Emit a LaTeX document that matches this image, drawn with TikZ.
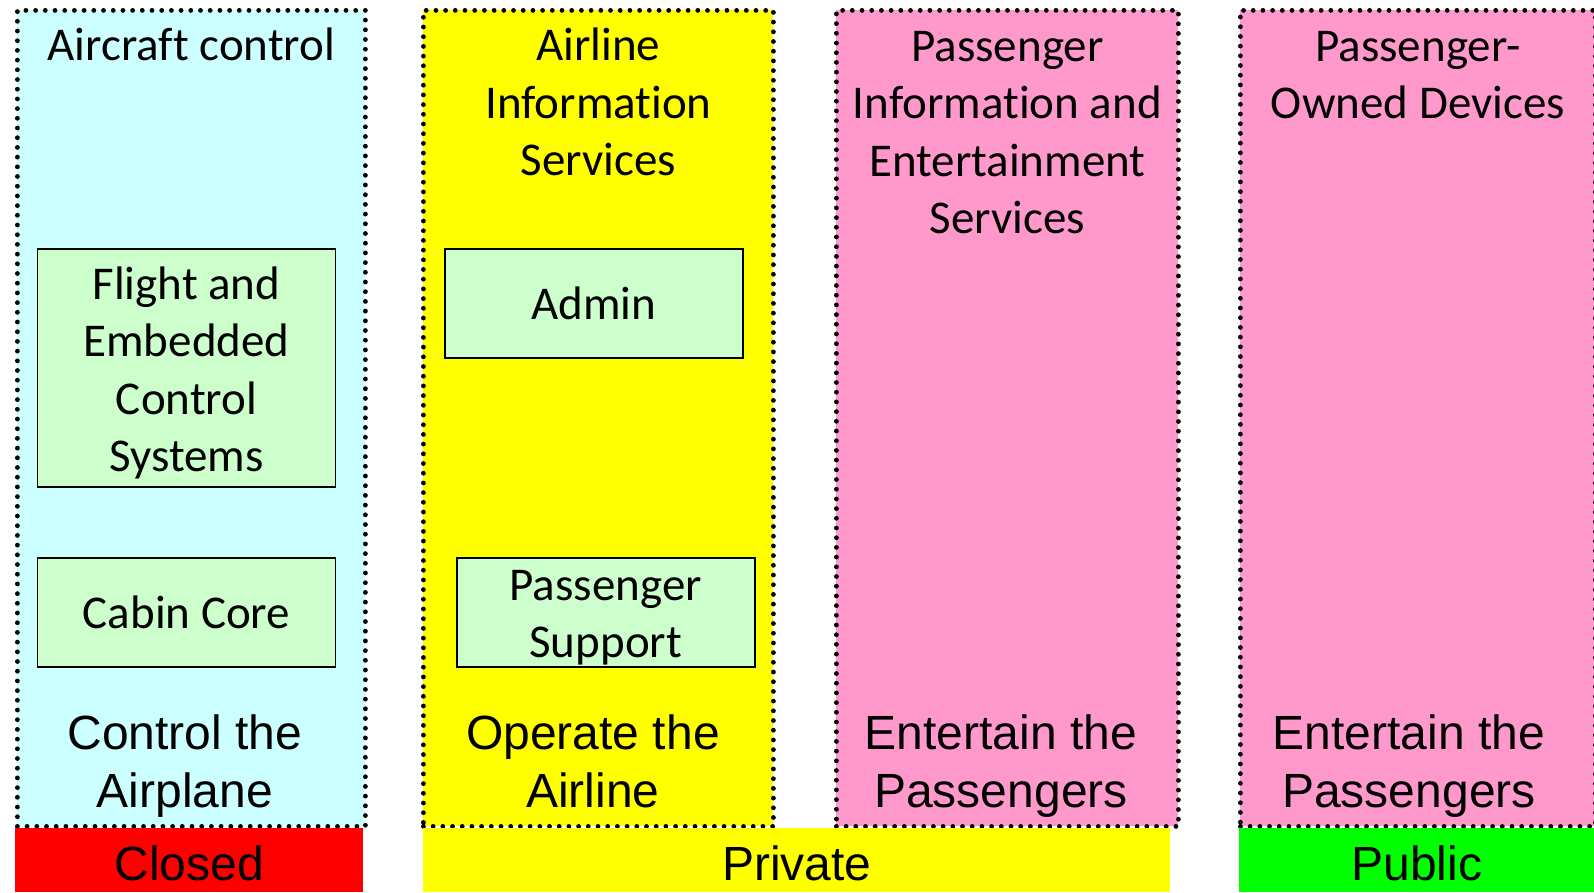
\documentclass[tikz,border=0pt]{standalone}
\usepackage{fontspec}
\setmainfont{Carlito}[Ligatures=NoCommon]
\newfontfamily\arialfont{Liberation Sans}
\usetikzlibrary{positioning}

\definecolor{ctlcyan}{HTML}{CCFFFF}
\definecolor{opryellow}{HTML}{FFFF00}
\definecolor{paxpink}{HTML}{FF99CC}
\definecolor{sysgreen}{HTML}{CCFFCC}
\definecolor{closedred}{HTML}{FF0000}
\definecolor{publicgreen}{HTML}{00FF00}

\begin{document}
\begin{tikzpicture}[x=1pt,y=-1pt,
		zone/.style={draw=black,line width=4.8pt,dash pattern=on 0pt off 9.7pt,line cap=round,
			minimum height=816pt,inner sep=0pt,anchor=north west},
		zonetitle/.style={inner sep=0pt,align=center,font=\fontsize{47}{57.5}\selectfont},
		sysbox/.style={draw=black,line width=1.8pt,fill=sysgreen,align=center,inner sep=0pt,
			font=\fontsize{47}{57.5}\selectfont},
		systext/.style={inner sep=0pt,align=center,font=\fontsize{47}{57.5}\selectfont},
		goal/.style={anchor=north,inner sep=0pt,align=center,font=\arialfont\fontsize{48}{57.5}\selectfont},
		trust/.style={anchor=north west,inner sep=0pt,minimum height=64pt,text height=41pt,text depth=0pt,
			font=\arialfont\fontsize{48}{57.5}\selectfont}]
		\useasboundingbox (0,0) rectangle (1594,892);

		% domains
		\node[zone,fill=ctlcyan,minimum width=348pt] (ctl) at (15,8) {};
		\node[zone,fill=opryellow,minimum width=350pt] (opr) at (421,8) {};
		\node[zone,fill=paxpink,minimum width=342pt] (ent) at (834,8) {};
		\node[zone,fill=paxpink,minimum width=355pt] (pod) at (1238,8) {};

		\node[zonetitle,below=20pt of ctl.north] (ctltitle) {Aircraft control};
		\node[zonetitle,below=20pt of opr.north] (oprtitle) {Airline\\Information\\Services};
		\node[zonetitle,below=23pt of ent.north] (enttitle) {Passenger\\Information and\\Entertainment\\Services};
		\node[zonetitle,below=23pt of pod.north] (podtitle) {Passenger-\\Owned Devices};

		% systems
		\node[sysbox,minimum width=298pt,minimum height=238pt] (flight) at (186.5,368) {};
		\node[systext,yshift=-5pt] (flighttext) at (flight) {Flight and\\Embedded\\Control\\Systems};
		\node[sysbox,minimum width=298pt,minimum height=109pt] (cabin) at (186.5,612.5) {Cabin Core};
		\node[sysbox,minimum width=298pt,minimum height=109pt] (admin) at (594,303.5) {Admin};
		\node[sysbox,minimum width=298pt,minimum height=109pt] (paxsup) at (605.7,612.5) {};
		\node[systext,yshift=-5pt] (paxsuptext) at (paxsup) {Passenger\\Support};

		% purpose
		\node[goal] (ctlgoal) at (185,715) {Control the\\Airplane};
		\node[goal] (oprgoal) at (593,715) {Operate the\\Airline};
		\node[goal] (entgoal) at (1001,715) {Entertain the\\Passengers};
		\node[goal] (podgoal) at (1409,715) {Entertain the\\Passengers};

		% trust levels
		\node[trust,fill=closedred,minimum width=348pt] (closed) at (15,828) {Closed};
		\node[trust,fill=opryellow,minimum width=747pt] (private) at (423,828) {Private};
		\node[trust,fill=publicgreen,minimum width=355pt] (public) at (1239,828) {Public};
	\end{tikzpicture}
\end{document}
